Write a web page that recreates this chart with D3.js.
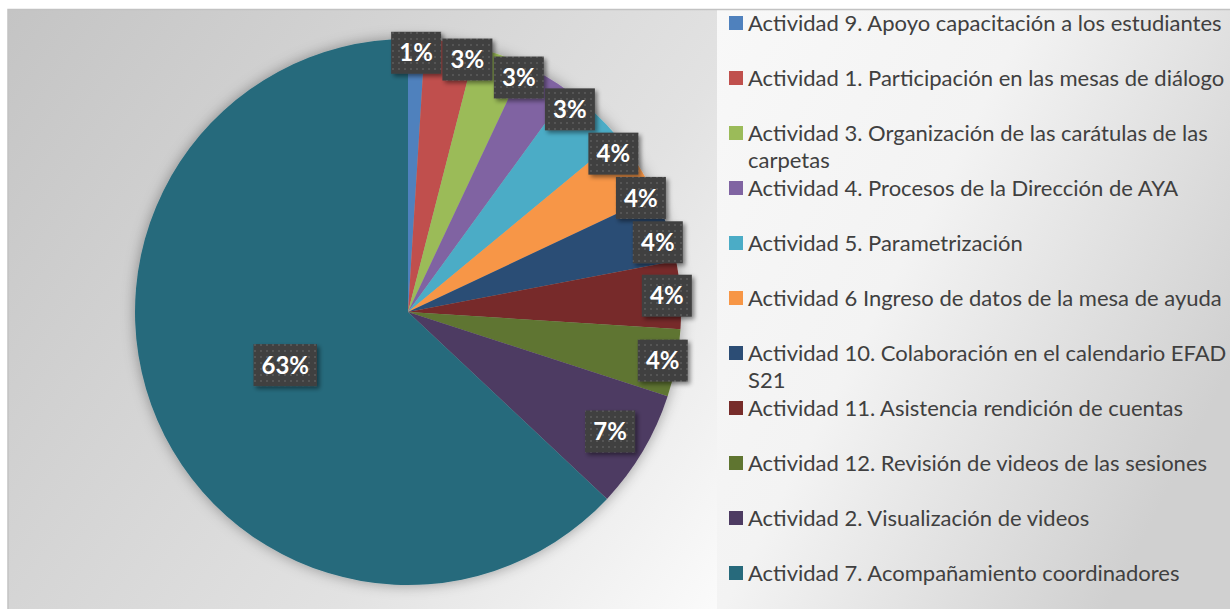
<!DOCTYPE html>
<html>
<head>
<meta charset="utf-8">
<style>
  body { margin: 0; background: #fff; }
  svg { display: block; }
</style>
</head>
<body>
<svg id="chart"></svg>
<script src="https://cdn.jsdelivr.net/npm/d3@7"></script>
<script>
  // categories in the order the slices are drawn (clockwise from 12 o'clock)
  const categories = [
    "Actividad 9. Apoyo capacitación a los estudiantes",
    "Actividad 1. Participación en las mesas de diálogo",
    "Actividad 3. Organización de las carátulas de las carpetas",
    "Actividad 4. Procesos de la Dirección de AYA",
    "Actividad 5. Parametrización",
    "Actividad 6 Ingreso de datos de la mesa de ayuda",
    "Actividad 10. Colaboración en el calendario EFAD S21",
    "Actividad 11. Asistencia rendición de cuentas",
    "Actividad 12. Revisión de videos de las sesiones",
    "Actividad 2. Visualización de videos",
    "Actividad 7. Acompañamiento coordinadores"
  ];
  const values = [1, 3, 3, 3, 4, 4, 4, 4, 4, 7, 63];
  const colors = ["#4F81BD", "#C0504D", "#9BBB59", "#8064A2", "#4BACC6", "#F79646",
                  "#2C4D75", "#772C2A", "#5F7530", "#4D3B62", "#276A7C"];

  const width = 1230, height = 609;
  const cx = 408, cy = 312, radius = 273;
  const fontFam = "Lato, 'Open Sans', sans-serif";

  const svg = d3.select("#chart").attr("width", width).attr("height", height);
  const defs = svg.append("defs");

  // backgrounds
  const plotGrad = defs.append("linearGradient").attr("id", "plotBg")
    .attr("x1", 0).attr("y1", 0).attr("x2", 1).attr("y2", 0.35);
  plotGrad.append("stop").attr("offset", "0%").attr("stop-color", "#c4c4c4");
  plotGrad.append("stop").attr("offset", "55%").attr("stop-color", "#e2e2e2");
  plotGrad.append("stop").attr("offset", "88%").attr("stop-color", "#ffffff");
  plotGrad.append("stop").attr("offset", "100%").attr("stop-color", "#fbfbfb");

  const legGrad = defs.append("linearGradient").attr("id", "legBg")
    .attr("x1", 0).attr("y1", 0).attr("x2", 1).attr("y2", 0.6);
  legGrad.append("stop").attr("offset", "0%").attr("stop-color", "#f8f8f8");
  legGrad.append("stop").attr("offset", "45%").attr("stop-color", "#f3f3f3");
  legGrad.append("stop").attr("offset", "100%").attr("stop-color", "#d0d0d0");

  const pieShadow = defs.append("filter").attr("id", "pieShadow")
    .attr("x", "-10%").attr("y", "-10%").attr("width", "120%").attr("height", "120%");
  pieShadow.append("feDropShadow").attr("dx", 0).attr("dy", 0)
    .attr("stdDeviation", 7).attr("flood-color", "#000").attr("flood-opacity", 0.35);

  const boxShadow = defs.append("filter").attr("id", "boxShadow")
    .attr("x", "-20%").attr("y", "-20%").attr("width", "150%").attr("height", "150%");
  boxShadow.append("feDropShadow").attr("dx", 2.5).attr("dy", 2.5)
    .attr("stdDeviation", 2).attr("flood-color", "#000").attr("flood-opacity", 0.45);

  const dots = defs.append("pattern").attr("id", "dots")
    .attr("patternUnits", "userSpaceOnUse").attr("width", 6).attr("height", 6);
  dots.append("rect").attr("width", 6).attr("height", 6).attr("fill", "#3f3f3f");
  dots.append("rect").attr("x", 2).attr("y", 2).attr("width", 2).attr("height", 2).attr("fill", "#555555");

  svg.append("rect").attr("x", 8).attr("y", 9).attr("width", width - 8).attr("height", height - 9)
    .attr("fill", "url(#plotBg)");
  svg.append("rect").attr("x", 717).attr("y", 10).attr("width", width - 717).attr("height", height - 10)
    .attr("fill", "url(#legBg)");
  svg.append("path").attr("d", `M8,${height}V9.5H${width}`)
    .attr("fill", "none").attr("stroke", "#c2c2c2").attr("stroke-width", 1.5);

  // pie
  const pie = d3.pie().sort(null).value(d => d.value);
  const arcs = pie(categories.map((c, i) => ({ name: c, value: values[i], color: colors[i] })));
  const total = d3.sum(values);
  const pct = d3.format(".0%");
  const arc = d3.arc().innerRadius(0).outerRadius(radius);

  const g = svg.append("g").attr("transform", `translate(${cx},${cy})`);
  g.append("g").attr("filter", "url(#pieShadow)")
    .selectAll("path").data(arcs).join("path")
    .attr("d", arc).attr("fill", d => d.data.color);

  // data labels: near the outer end for thin slices, nudged clockwise to avoid overlap
  const boxH = 42, padX = 8;
  const lbl = g.append("g");
  const placed = [];
  arcs.forEach(d => {
    const share = d.value / total;
    const rr = share > 0.5 ? 0.49 * radius : share > 0.05 ? 0.86 * radius : 0.95 * radius;
    const t = lbl.append("text").text(pct(share))
      .attr("font-family", fontFam).attr("font-weight", 700).attr("font-size", 24)
      .attr("fill", "#fff").attr("text-anchor", "middle").attr("dy", "0.36em");
    const w = Math.max(50, t.node().getComputedTextLength() + padX * 2);
    let a = (d.startAngle + d.endAngle) / 2;
    let x, y;
    const pos = () => { x = rr * Math.sin(a); y = -rr * Math.cos(a); };
    pos();
    const hit = () => placed.some(p => Math.abs(p.x - x) < (p.w + w) / 2 + 1 && Math.abs(p.y - y) < boxH + 2);
    let guard = 0;
    while (hit() && guard++ < 400) { a += 0.002; pos(); }
    placed.push({ x, y, w });
    lbl.insert("rect", () => t.node())
      .attr("x", x - w / 2).attr("y", y - boxH / 2).attr("width", w).attr("height", boxH)
      .attr("fill", "url(#dots)").attr("filter", "url(#boxShadow)");
    t.attr("x", x).attr("y", y);
  });

  // legend
  const ly = d3.scalePoint().domain(categories).range([23, 573]);
  const maxW = 482;
  const leg = svg.append("g").selectAll("g").data(arcs).join("g")
    .attr("transform", d => `translate(729,${ly(d.data.name)})`);
  leg.append("rect").attr("y", -7).attr("width", 14).attr("height", 14).attr("fill", d => d.data.color);
  leg.append("text")
    .attr("x", 19).attr("font-family", fontFam).attr("font-size", 22).attr("fill", "#404040")
    .each(function (d) {
      const txt = d3.select(this);
      const words = d.data.name.split(" ");
      let line = [], tspan = txt.append("tspan").attr("x", 19).attr("dy", "0.36em");
      words.forEach(wd => {
        line.push(wd);
        tspan.text(line.join(" "));
        if (tspan.node().getComputedTextLength() > maxW && line.length > 1) {
          line.pop();
          tspan.text(line.join(" "));
          line = [wd];
          tspan = txt.append("tspan").attr("x", 19).attr("dy", 27).text(wd);
        }
      });
    });
</script>
</body>
</html>
